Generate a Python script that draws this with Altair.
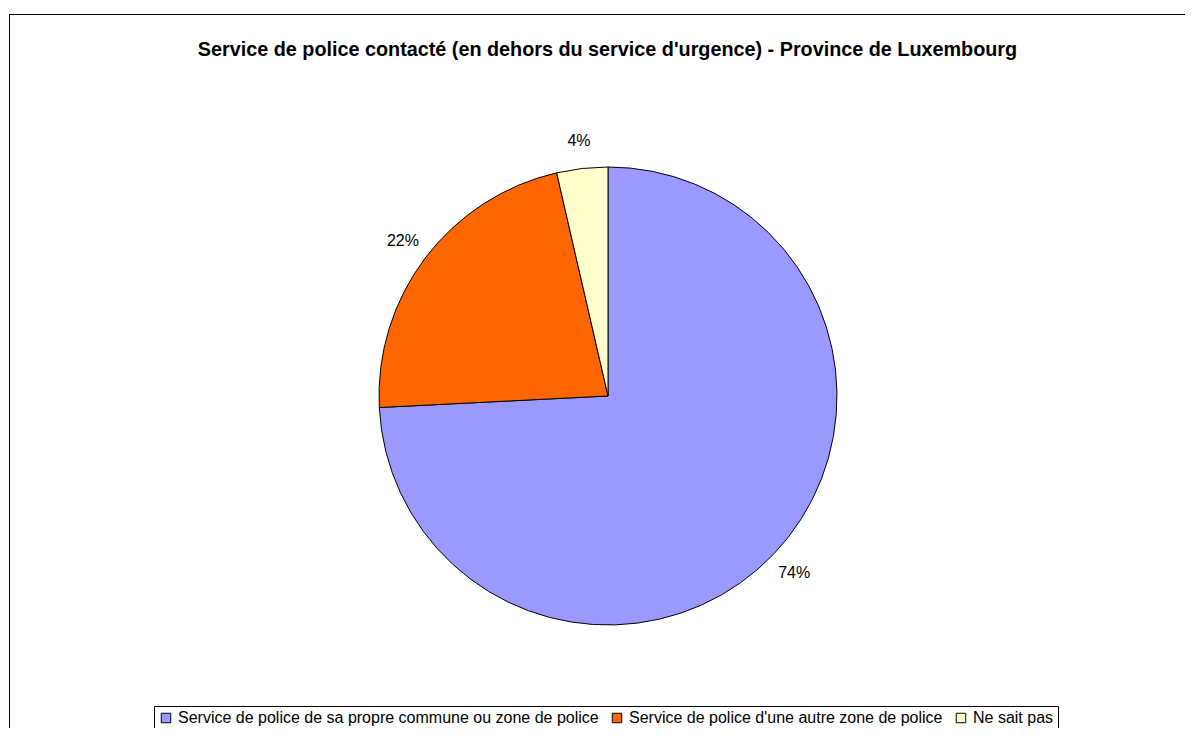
import altair as alt
import pandas as pd

categories = [
    "Service de police de sa propre commune ou zone de police",
    "Service de police d'une autre zone de police",
    "Ne sait pas",
]
shares = [0.742, 0.222, 0.036]
colors = ["#9999FF", "#FF6600", "#FFFFCC"]
title_text = "Service de police contacté (en dehors du service d'urgence) - Province de Luxembourg"

df = pd.DataFrame({"cat": categories, "share": shares, "order": [0, 1, 2]})

W, H = 1177, 720
CX, CY = 600, 388

base = alt.Chart(df).encode(
    theta=alt.Theta("share:Q", stack=True),
    order=alt.Order("order:Q"),
    x=alt.value(CX),
    y=alt.value(CY),
)

arcs = base.mark_arc(outerRadius=229, stroke="black", strokeWidth=1).encode(
    color=alt.Color(
        "cat:N",
        scale=alt.Scale(domain=categories, range=colors),
        legend=alt.Legend(
            title=None,
            orient="none",
            direction="horizontal",
            legendX=146,
            legendY=698,
            symbolType="square",
            symbolSize=90,
            symbolStrokeColor="black",
            symbolStrokeWidth=1,
            labelFont="Liberation Sans",
            labelFontSize=16,
            labelColor="black",
            strokeColor="black",
            padding=4,
            columnPadding=10,
            labelOffset=4,
            labelLimit=600,
            symbolOpacity=1,
        ),
    )
)

labels = base.mark_text(radius=257, font="Liberation Sans", fontSize=16, color="black").encode(
    text=alt.Text("share:Q", format=".0%")
)

border_df = pd.DataFrame({"k": [0]})
top_rule = alt.Chart(border_df).mark_rule(color="black", strokeWidth=1).encode(
    x=alt.value(1), x2=alt.value(W), y=alt.value(6.5)
)
left_rule = alt.Chart(border_df).mark_rule(color="black", strokeWidth=1).encode(
    x=alt.value(1.5), y=alt.value(6), y2=alt.value(H)
)

chart = alt.layer(arcs, labels, top_rule, left_rule).properties(
    width=W,
    height=H,
    padding=0,
    autosize=alt.AutoSizeParams(type="none"),
    title=alt.TitleParams(
        title_text,
        font="Liberation Sans",
        fontSize=19.8,
        fontWeight="bold",
        color="black",
        anchor="middle",
        frame="group",
        dx=11,
        dy=56,
    ),
).configure_view(stroke=None)

chart.save("out.html", embed_options={"renderer": "svg", "actions": False})
